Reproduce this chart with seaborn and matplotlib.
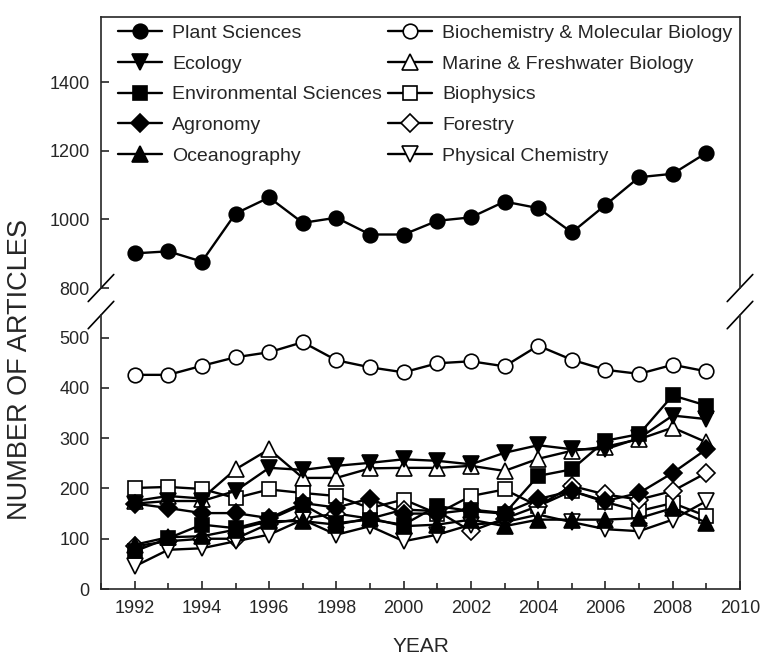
import matplotlib
matplotlib.use("Agg")
import matplotlib.pyplot as plt
from matplotlib.ticker import MultipleLocator
import seaborn as sns

# data
years = list(range(1992, 2010))

plant_sciences = [901, 907, 877, 1017, 1064, 990, 1005, 956, 956, 996, 1006, 1052, 1033, 962, 1042, 1123, 1133, 1194]
biochemistry = [426, 426, 444, 461, 471, 491, 455, 441, 431, 449, 453, 443, 484, 456, 436, 428, 446, 433]
ecology = [170, 175, 175, 195, 241, 237, 245, 251, 258, 255, 248, 271, 286, 278, 278, 300, 345, 338]
marine = [175, 185, 180, 238, 278, 221, 221, 240, 241, 241, 245, 235, 259, 275, 283, 298, 321, 292]
env_sciences = [75, 101, 128, 121, 138, 168, 131, 138, 128, 165, 155, 150, 225, 238, 295, 308, 385, 365]
biophysics = [201, 203, 199, 181, 198, 191, 185, 161, 178, 150, 185, 198, 165, 195, 173, 155, 171, 145]
agronomy = [170, 161, 151, 151, 141, 171, 162, 180, 150, 150, 158, 151, 179, 195, 175, 191, 231, 278]
forestry = [85, 95, 100, 100, 130, 140, 150, 140, 158, 155, 115, 140, 165, 205, 188, 178, 195, 231]
oceanography = [88, 103, 105, 118, 135, 135, 128, 141, 125, 128, 138, 125, 138, 138, 138, 141, 161, 132]
phys_chem = [45, 78, 81, 95, 108, 138, 108, 125, 95, 108, 128, 133, 148, 133, 119, 115, 138, 175]

sns.set_style("ticks")
plt.rcParams["font.family"] = ["Liberation Sans", "DejaVu Sans"]

fig = plt.figure(figsize=(7.61, 6.57), dpi=100)
ax_top = fig.add_axes([0.1327, 0.5616, 0.8397, 0.4125])
ax_bot = fig.add_axes([0.1327, 0.1035, 0.8397, 0.4170])

style = dict(color="black", linewidth=1.7, markeredgecolor="black", markeredgewidth=1.2)

# (name, values, marker, filled)
series = [
    ("Plant Sciences", plant_sciences, "o", True),
    ("Ecology", ecology, "v", True),
    ("Environmental Sciences", env_sciences, "s", True),
    ("Agronomy", agronomy, "D", True),
    ("Oceanography", oceanography, "^", True),
    ("Biochemistry & Molecular Biology", biochemistry, "o", False),
    ("Marine & Freshwater Biology", marine, "^", False),
    ("Biophysics", biophysics, "s", False),
    ("Forestry", forestry, "D", False),
    ("Physical Chemistry", phys_chem, "v", False),
]

handles = {}
# open markers first, filled ones on top
draw_order = [5, 6, 7, 8, 9, 1, 2, 3, 4, 0]
for i in draw_order:
    name, vals, m, filled = series[i]
    ax = ax_top if name == "Plant Sciences" else ax_bot
    ms = 9.5 if m == "D" else (11.5 if m in ("v", "^") else 10.5)
    sns.lineplot(x=years, y=vals, ax=ax, marker=m, label=name, markersize=ms,
                 markerfacecolor="black" if filled else "white", **style)
    handles[name] = ax.get_lines()[-1]

for ax in (ax_top, ax_bot):
    if ax.get_legend() is not None:
        ax.get_legend().remove()
    ax.set_xlim(1991, 2010)
    for s in ax.spines.values():
        s.set_linewidth(1.2)

ax_top.set_ylim(800, 1590)
ax_top.set_yticks([800, 1000, 1200, 1400])
ax_top.spines["bottom"].set_visible(False)
ax_top.tick_params(axis="x", bottom=False, labelbottom=False)
ax_top.tick_params(axis="y", direction="in", length=6, width=1.2, labelsize=13, pad=8)
ax_top.set_xlabel("")

ax_bot.set_ylim(0, 545)
ax_bot.set_yticks([0, 100, 200, 300, 400, 500])
ax_bot.spines["top"].set_visible(False)
ax_bot.xaxis.set_major_locator(MultipleLocator(2))
ax_bot.xaxis.set_minor_locator(MultipleLocator(1))
ax_bot.tick_params(axis="both", which="major", direction="in", length=6, width=1.2, labelsize=13)
ax_bot.tick_params(axis="x", which="minor", direction="in", length=4, width=1.2)
ax_bot.tick_params(axis="x", pad=8)
ax_bot.tick_params(axis="y", pad=8)
ax_bot.set_xlabel("YEAR", fontsize=15, labelpad=14)
ax_bot.set_ylabel("")

fig.text(0.026, 0.437, "NUMBER OF ARTICLES", rotation=90, fontsize=19.5,
         va="center", ha="center")

# axis break marks
dx, dy = 0.02, 0.05
kw = dict(color="black", linewidth=1.2, clip_on=False)
for xc in (0, 1):
    ax_top.plot([xc - dx, xc + dx], [-dy, dy], transform=ax_top.transAxes, **kw)
    ax_bot.plot([xc - dx, xc + dx], [1 - dy, 1 + dy], transform=ax_bot.transAxes, **kw)

order = [s[0] for s in series]
ax_top.legend([handles[n] for n in order], order, ncol=2, loc="upper left",
              bbox_to_anchor=(0.0, 1.035), frameon=False, fontsize=14,
              handlelength=2.3, handletextpad=0.5, columnspacing=0.3,
              labelspacing=0.68, borderaxespad=0.45)

fig.savefig("out.png", dpi=100)
